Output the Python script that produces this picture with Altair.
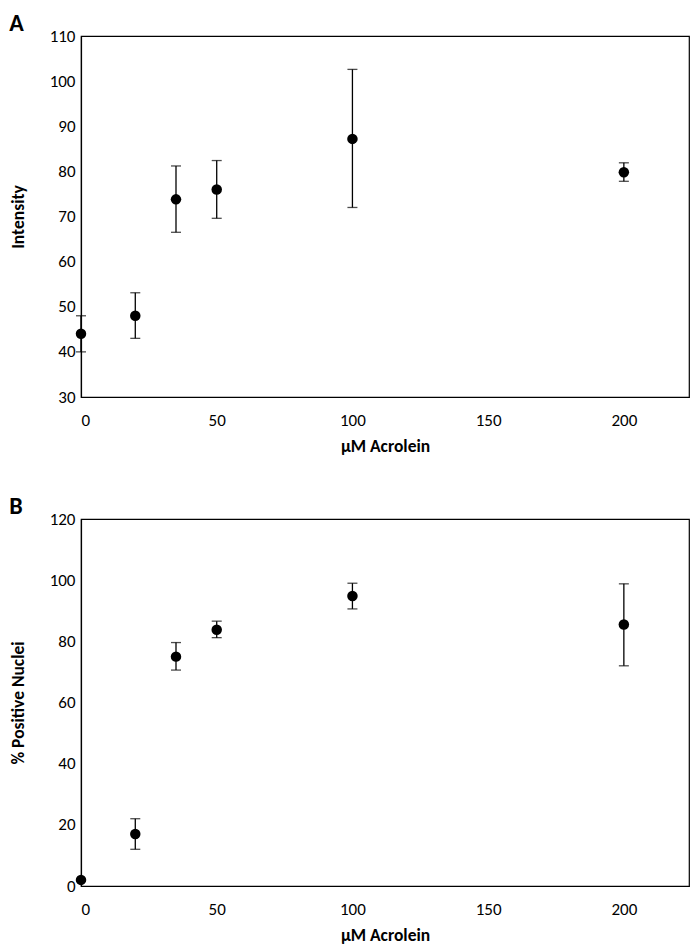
import altair as alt
import pandas as pd

conc = [0, 20, 35, 50, 100, 200]

# Panel A: Intensity
int_mean = [44.0, 48.0, 73.8, 76.0, 87.2, 79.8]
int_low = [40.0, 43.0, 66.5, 69.6, 72.0, 77.8]
int_high = [48.0, 53.1, 81.2, 82.4, 102.6, 81.9]

# Panel B: % Positive Nuclei
pos_mean = [2.0, 17.0, 75.0, 83.8, 94.8, 85.5]
pos_low = [2.0, 12.0, 70.6, 81.2, 90.6, 72.0]
pos_high = [2.0, 22.0, 79.6, 86.6, 99.0, 98.8]

FONT = "Carlito, Liberation Sans Narrow, Open Sans, sans-serif"

dfA = pd.DataFrame({"x": conc, "y": int_mean, "lo": int_low, "hi": int_high})
dfB = pd.DataFrame({"x": conc, "y": pos_mean, "lo": pos_low, "hi": pos_high})


def panel(df, letter, ytitle, ydomain, yticks, height):
    xs = alt.X("x:Q", title="µM Acrolein",
               scale=alt.Scale(domain=[0, 224], nice=False, zero=False),
               axis=alt.Axis(values=[0, 50, 100, 150, 200], ticks=False, grid=False,
                             labelPadding=15, titlePadding=9))
    yaxis = alt.Axis(values=yticks, ticks=False, grid=False, labelPadding=6,
                     titlePadding=22)
    yscale = alt.Scale(domain=ydomain, nice=False, zero=False)
    ys = alt.Y("y:Q", title=ytitle, scale=yscale, axis=yaxis)
    base = alt.Chart(df)
    err = base.mark_errorbar(ticks=alt.MarkConfig(size=10, color="black", strokeWidth=1.3),
                             color="black", thickness=1.3).encode(
        x=xs, y=alt.Y("lo:Q", title=ytitle, scale=yscale, axis=yaxis),
        y2="hi:Q")
    pts = base.mark_circle(size=110, color="black", opacity=1).encode(x=xs, y=ys)
    return alt.layer(err, pts).properties(
        width=608, height=height,
        title=alt.TitleParams(letter, anchor="start", frame="bounds", fontSize=24,
                              fontWeight="bold", font=FONT, offset=-9))


chartA = panel(dfA, "A", "Intensity", [30, 110], list(range(30, 111, 10)), 361)
chartB = panel(dfB, "B", "% Positive Nuclei", [0, 120], list(range(0, 121, 20)), 367)

chart = alt.vconcat(chartA, chartB, spacing=38).properties(
    padding={"left": 0, "top": 3, "right": 0, "bottom": 0}
).configure_view(
    stroke="black", strokeWidth=1.2
).configure_axis(
    grid=False, domainColor="black", domainWidth=1.2,
    labelFont=FONT, labelFontSize=17, labelColor="black",
    titleFont=FONT, titleFontSize=17.5, titleFontWeight="bold", titleColor="black"
)

chart.save("out.html", embed_options={"renderer": "svg", "actions": False})
